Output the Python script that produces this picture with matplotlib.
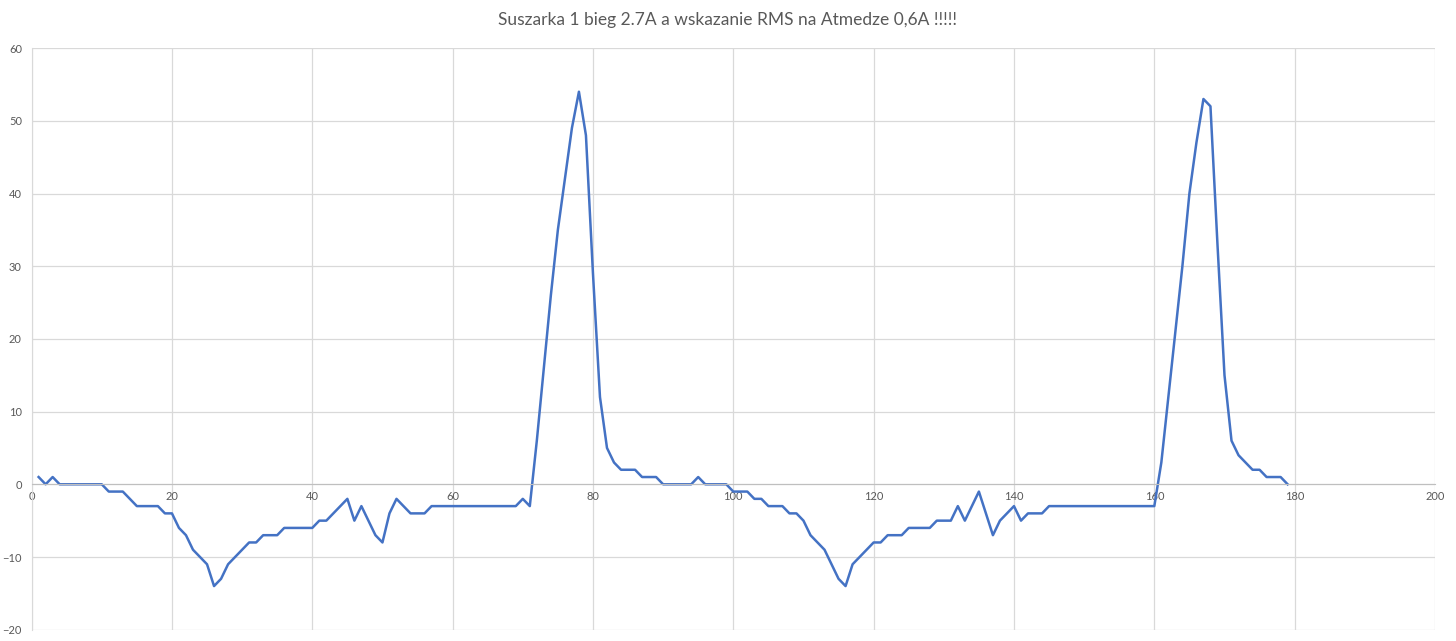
import numpy as np
import matplotlib.pyplot as plt

# Odczyty z oscyloskopu (próbki 1..179)
probki = list(range(1, 180))
wartosci = [
    1, 0, 1, 0, 0, 0, 0, 0, 0, 0,            # 1-10
    -1, -1, -1, -2, -3, -3, -3, -3, -4, -4,  # 11-20
    -6, -7, -9, -10, -11, -14, -13, -11, -10, -9,  # 21-30
    -8, -8, -7, -7, -7, -6, -6, -6, -6, -6,  # 31-40
    -5, -5, -4, -3, -2, -5, -3, -5, -7, -8,  # 41-50
    -4, -2, -3, -4, -4, -4, -3, -3, -3, -3,  # 51-60
    -3, -3, -3, -3, -3, -3, -3, -3, -3, -2,  # 61-70
    -3, 6, 16, 26, 35, 42, 49, 54, 48, 29,   # 71-80
    12, 5, 3, 2, 2, 2, 1, 1, 1, 0,           # 81-90
    0, 0, 0, 0, 1, 0, 0, 0, 0, -1,           # 91-100
    -1, -1, -2, -2, -3, -3, -3, -4, -4, -5,  # 101-110
    -7, -8, -9, -11, -13, -14, -11, -10, -9, -8,  # 111-120
    -8, -7, -7, -7, -6, -6, -6, -6, -5, -5,  # 121-130
    -5, -3, -5, -3, -1, -4, -7, -5, -4, -3,  # 131-140
    -5, -4, -4, -4, -3, -3, -3, -3, -3, -3,  # 141-150
    -3, -3, -3, -3, -3, -3, -3, -3, -3, -3,  # 151-160
    3, 12, 21, 30, 40, 47, 53, 52, 33, 15,   # 161-170
    6, 4, 3, 2, 2, 1, 1, 1, 0,               # 171-179
]

tytul = 'Suszarka 1 bieg 2.7A a wskazanie RMS na Atmedze 0,6A !!!!!'
x_ticks = list(range(0, 201, 20))
y_ticks = list(range(-20, 61, 10))

plt.rcParams['font.family'] = ['Lato', 'DejaVu Sans']

fig = plt.figure(figsize=(14.56, 6.41), dpi=100)
ax = fig.add_axes([31.6 / 1456, 1 - 629.7 / 641, (1435 - 31.6) / 1456, (629.7 - 48.1) / 641])

ax.plot(probki, wartosci, color='#4472C4', lw=1.8, solid_joinstyle='round')

ax.set_xlim(0, 200)
ax.set_ylim(-20, 60)
ax.set_xticks(x_ticks)
ax.set_yticks(y_ticks)
ax.grid(True, color='#d9d9d9', lw=0.9)
ax.set_axisbelow(True)

for s in ['top', 'right']:
    ax.spines[s].set_visible(False)
ax.spines['left'].set_color('#d9d9d9')
ax.spines['bottom'].set_position(('data', 0))
ax.spines['bottom'].set_color('#bfbfbf')
ax.tick_params(axis='both', length=0, labelsize=8, labelcolor='#595959')
ax.tick_params(axis='x', pad=5)
ax.tick_params(axis='y', pad=7)

fig.text(0.5, 1 - 20 / 641, tytul, ha='center', va='center', fontsize=12.5, color='#595959')

fig.savefig('out.png', dpi=100)
